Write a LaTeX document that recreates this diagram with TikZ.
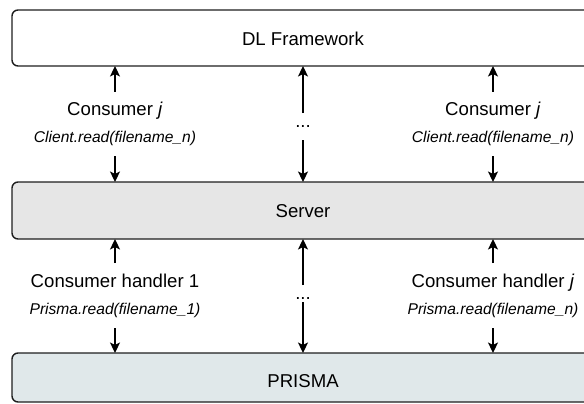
\documentclass[tikz,border=0pt]{standalone}
\usepackage{fontspec}
\setmainfont{Liberation Sans}
\usetikzlibrary{arrows.meta}
\definecolor{serverfill}{HTML}{E6E6E6}
\definecolor{prismafill}{HTML}{E0E8EA}
\definecolor{edge}{HTML}{1E1E1E}
\begin{document}
\begin{tikzpicture}[x=1pt,y=-1pt,
  layer/.style={draw=edge, line width=1.4pt, rounded corners=6pt, inner sep=0pt},
  title/.style={font=\fontsize{18.6}{20}\selectfont, anchor=base, inner sep=0pt},
  who/.style={font=\fontsize{18.6}{20}\selectfont, anchor=base, inner sep=0pt},
  call/.style={font=\fontsize{15.6}{18}\selectfont\itshape, anchor=base, inner sep=0pt},
  flow/.style={-{Stealth[length=10.5pt,width=10pt,inset=2.5pt]}, line width=1.3pt, draw=black}]
\useasboundingbox (0,0) rectangle (584,404);
\begin{scope}
\clip (0,0) rectangle (584,404);
% the three layers
\draw[layer, fill=white] (12,10) rectangle (594,66);
\draw[layer, fill=serverfill] (12,182) rectangle (594,239);
\draw[layer, fill=prismafill] (12,353) rectangle (594,402);
\end{scope}
\coordinate (fwS) at (303,66);
\coordinate (svN) at (303,182);
\coordinate (svS) at (303,239);
\coordinate (prN) at (303,353);
\node[title] (fw) at (303,46) {DL Framework};
\node[title] (sv) at (303,217.3) {Server};
\node[title] (pr) at (303,387.3) {PRISMA};

% framework <-> server
\node[who]  (c1)  at (115,115.5) {Consumer \textit{j}};
\node[call] (r1)  at (115,142.5) {Client.read(filename\_n)};
\node[who]  (c2)  at (493,115.5) {Consumer \textit{j}};
\node[call] (r2)  at (493,142.5) {Client.read(filename\_n)};
\node[who]  (d1)  at (303,127.5) {...};
\coordinate (c1t) at (115,92);  \coordinate (r1b) at (115,156);
\coordinate (c2t) at (493,92);  \coordinate (r2b) at (493,156);
\coordinate (d1t) at (303,113); \coordinate (d1b) at (303,140);
\draw[flow] (c1t) -- (c1t |- fwS);
\draw[flow] (r1b) -- (r1b |- svN);
\draw[flow] (c2t) -- (c2t |- fwS);
\draw[flow] (r2b) -- (r2b |- svN);
\draw[flow] (d1t) -- (fwS);
\draw[flow] (d1b) -- (svN);

% server <-> PRISMA
\node[who]  (h1)  at (115,287.3) {Consumer handler 1};
\node[call] (p1)  at (115,314.3) {Prisma.read(filename\_1)};
\node[who]  (h2)  at (493,287.3) {Consumer handler \textit{j}};
\node[call] (p2)  at (493,314.3) {Prisma.read(filename\_n)};
\node[who]  (d2)  at (303,299.5) {...};
\coordinate (h1t) at (115,263); \coordinate (p1b) at (115,328);
\coordinate (h2t) at (493,263); \coordinate (p2b) at (493,328);
\coordinate (d2t) at (303,285); \coordinate (d2b) at (303,302);
\draw[flow] (h1t) -- (h1t |- svS);
\draw[flow] (p1b) -- (p1b |- prN);
\draw[flow] (h2t) -- (h2t |- svS);
\draw[flow] (p2b) -- (p2b |- prN);
\draw[flow] (d2t) -- (svS);
\draw[flow] (d2b) -- (prN);
\end{tikzpicture}
\end{document}
